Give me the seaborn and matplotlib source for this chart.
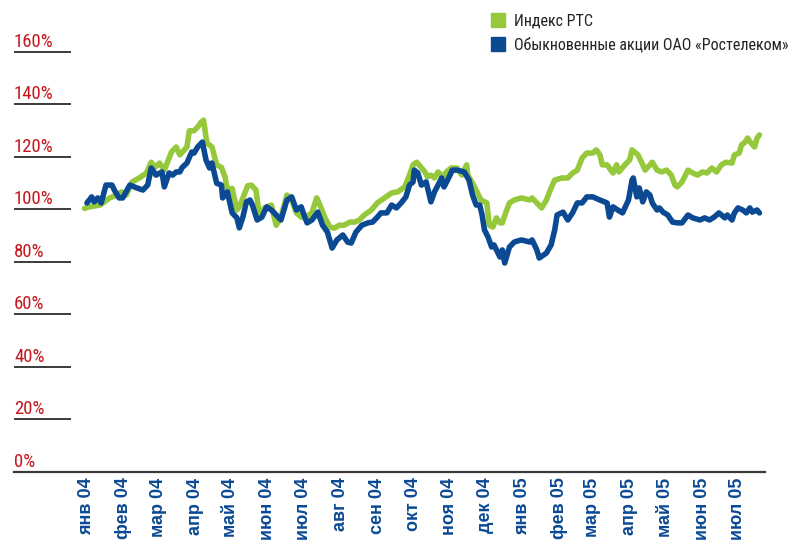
import pandas as pd
import matplotlib
matplotlib.use("Agg")
import matplotlib.pyplot as plt
import matplotlib.transforms as mtransforms
from matplotlib.lines import Line2D
from matplotlib import font_manager
import seaborn as sns

# Индекс РТС, % к началу периода
rts_dates = [
    "2003-12-30", "2004-01-03", "2004-01-12", "2004-01-20", "2004-01-26", "2004-01-30",
    "2004-02-03", "2004-02-08", "2004-02-14", "2004-02-20", "2004-02-24", "2004-02-27",
    "2004-03-02", "2004-03-06", "2004-03-12", "2004-03-16", "2004-03-19", "2004-03-25",
    "2004-03-27", "2004-03-31", "2004-04-03", "2004-04-06", "2004-04-08", "2004-04-10",
    "2004-04-11", "2004-04-15", "2004-04-19", "2004-04-23", "2004-04-26", "2004-04-28",
    "2004-05-02", "2004-05-06", "2004-05-08", "2004-05-12", "2004-05-15", "2004-05-18",
    "2004-05-22", "2004-05-25", "2004-05-29", "2004-06-04", "2004-06-08", "2004-06-12",
    "2004-06-17", "2004-06-21", "2004-06-25", "2004-06-29", "2004-07-03", "2004-07-08",
    "2004-07-12", "2004-07-14", "2004-07-19", "2004-07-23", "2004-07-27", "2004-07-31",
    "2004-08-04", "2004-08-09", "2004-08-13", "2004-08-17", "2004-08-21", "2004-08-27",
    "2004-09-01", "2004-09-07", "2004-09-13", "2004-09-18", "2004-09-24", "2004-09-28",
    "2004-10-01", "2004-10-04", "2004-10-06", "2004-10-11", "2004-10-13", "2004-10-16",
    "2004-10-19", "2004-10-22", "2004-10-26", "2004-10-29", "2004-11-02", "2004-11-07",
    "2004-11-11", "2004-11-15", "2004-11-16", "2004-11-20", "2004-11-23", "2004-11-27",
    "2004-12-02", "2004-12-04", "2004-12-07", "2004-12-10", "2004-12-13", "2004-12-15",
    "2004-12-18", "2004-12-21", "2004-12-25", "2004-12-31", "2005-01-07", "2005-01-09",
    "2005-01-13", "2005-01-17", "2005-01-21", "2005-01-25", "2005-01-28", "2005-02-03",
    "2005-02-08", "2005-02-12", "2005-02-16", "2005-02-20", "2005-02-24", "2005-03-01",
    "2005-03-04", "2005-03-07", "2005-03-09", "2005-03-13", "2005-03-18", "2005-03-21",
    "2005-03-23", "2005-03-28", "2005-04-01", "2005-04-03", "2005-04-08", "2005-04-11",
    "2005-04-14", "2005-04-18", "2005-04-20", "2005-04-24", "2005-04-28", "2005-05-02",
    "2005-05-06", "2005-05-09", "2005-05-11", "2005-05-15", "2005-05-20", "2005-05-24",
    "2005-05-28", "2005-06-01", "2005-06-05", "2005-06-09", "2005-06-13", "2005-06-17",
    "2005-06-21", "2005-06-26", "2005-06-28", "2005-07-02", "2005-07-04", "2005-07-07",
    "2005-07-09", "2005-07-12", "2005-07-15", "2005-07-17", "2005-07-19",
]
rts_values = [
    100.4, 101.0, 101.7, 104.4, 105.5, 106.7,
    105.5, 110.5, 112.0, 113.9, 118.0, 116.0,
    117.7, 115.0, 121.9, 123.8, 120.8, 123.8,
    130.0, 130.0, 131.4, 133.3, 134.0, 127.6,
    125.3, 123.8, 117.0, 116.0, 112.4, 107.4,
    108.0, 99.8, 101.0, 105.5, 109.0, 109.3,
    107.4, 97.1, 100.6, 101.7, 94.0, 97.1,
    105.5, 103.6, 98.7, 97.1, 97.1, 98.7,
    104.4, 102.5, 96.8, 93.3, 92.9, 94.0,
    94.0, 95.2, 95.2, 96.0, 97.9, 99.8,
    102.5, 104.4, 106.3, 106.7, 108.6, 113.1,
    117.0, 118.0, 117.0, 114.3, 112.4, 113.1,
    112.0, 114.3, 112.4, 114.3, 115.8, 115.8,
    113.1, 117.0, 113.1, 110.0, 107.4, 103.6,
    102.5, 94.0, 93.3, 96.8, 94.9, 94.9,
    99.0, 102.5, 103.6, 104.4, 103.6, 104.4,
    102.5, 100.6, 103.6, 108.2, 111.2, 112.0,
    112.0, 113.9, 115.0, 119.6, 121.5, 121.5,
    122.7, 120.8, 117.0, 117.0, 113.9, 117.0,
    114.3, 117.0, 118.9, 122.7, 120.8, 118.0,
    115.0, 117.0, 118.0, 115.0, 114.3, 115.0,
    113.1, 109.3, 108.6, 110.5, 115.0, 113.9,
    113.1, 114.3, 113.9, 115.8, 114.3, 117.0,
    118.0, 117.7, 120.8, 121.5, 124.6, 125.7,
    127.2, 125.3, 123.8, 127.2, 128.4,
]

# Обыкновенные акции ОАО «Ростелеком», %
rtkm_dates = [
    "2004-01-01", "2004-01-05", "2004-01-07", "2004-01-10", "2004-01-13", "2004-01-17",
    "2004-01-22", "2004-01-24", "2004-01-28", "2004-01-31", "2004-02-06", "2004-02-12",
    "2004-02-17", "2004-02-21", "2004-02-24", "2004-02-28", "2004-03-04", "2004-03-06",
    "2004-03-10", "2004-03-13", "2004-03-16", "2004-03-19", "2004-03-21", "2004-03-25",
    "2004-03-29", "2004-03-31", "2004-04-03", "2004-04-07", "2004-04-10", "2004-04-13",
    "2004-04-15", "2004-04-19", "2004-04-23", "2004-04-24", "2004-04-28", "2004-05-02",
    "2004-05-06", "2004-05-08", "2004-05-11", "2004-05-14", "2004-05-17", "2004-05-19",
    "2004-05-23", "2004-05-27", "2004-05-31", "2004-06-04", "2004-06-08", "2004-06-12",
    "2004-06-17", "2004-06-21", "2004-06-25", "2004-06-29", "2004-07-02", "2004-07-04",
    "2004-07-08", "2004-07-13", "2004-07-17", "2004-07-21", "2004-07-25", "2004-07-29",
    "2004-08-03", "2004-08-07", "2004-08-10", "2004-08-14", "2004-08-19", "2004-08-24",
    "2004-08-28", "2004-09-01", "2004-09-04", "2004-09-09", "2004-09-13", "2004-09-17",
    "2004-09-21", "2004-09-25", "2004-09-28", "2004-10-01", "2004-10-02", "2004-10-05",
    "2004-10-08", "2004-10-12", "2004-10-16", "2004-10-19", "2004-10-22", "2004-10-25",
    "2004-10-27", "2004-10-30", "2004-11-03", "2004-11-07", "2004-11-13", "2004-11-17",
    "2004-11-20", "2004-11-23", "2004-11-26", "2004-11-28", "2004-11-30", "2004-12-03",
    "2004-12-06", "2004-12-08", "2004-12-13", "2004-12-15", "2004-12-17", "2004-12-21",
    "2004-12-25", "2004-12-31", "2005-01-07", "2005-01-09", "2005-01-13", "2005-01-15",
    "2005-01-21", "2005-01-25", "2005-01-28", "2005-01-30", "2005-02-04", "2005-02-08",
    "2005-02-12", "2005-02-16", "2005-02-20", "2005-02-24", "2005-03-01", "2005-03-07",
    "2005-03-13", "2005-03-15", "2005-03-18", "2005-03-22", "2005-03-26", "2005-03-31",
    "2005-04-03", "2005-04-04", "2005-04-07", "2005-04-09", "2005-04-12", "2005-04-15",
    "2005-04-18", "2005-04-20", "2005-04-24", "2005-04-26", "2005-04-29", "2005-05-03",
    "2005-05-07", "2005-05-11", "2005-05-15", "2005-05-20", "2005-05-24", "2005-05-30",
    "2005-06-03", "2005-06-07", "2005-06-11", "2005-06-15", "2005-06-20", "2005-06-22",
    "2005-06-26", "2005-06-28", "2005-07-01", "2005-07-05", "2005-07-08", "2005-07-11",
    "2005-07-13", "2005-07-17", "2005-07-19",
]
rtkm_values = [
    102.5, 104.8, 102.9, 104.4, 102.5, 109.3,
    109.3, 107.4, 104.4, 104.4, 109.3, 108.2,
    107.4, 109.3, 115.8, 113.1, 114.3, 108.6,
    113.9, 113.1, 114.3, 114.3, 116.0, 117.7,
    121.9, 121.5, 123.8, 125.7, 118.9, 115.8,
    117.7, 110.0, 109.3, 104.4, 106.7, 98.7,
    96.8, 93.0, 97.1, 102.9, 103.6, 101.7,
    96.0, 97.1, 101.0, 99.8, 97.9, 96.0,
    103.6, 104.8, 99.8, 101.0, 97.1, 94.9,
    96.0, 99.0, 94.0, 91.4, 85.3, 88.4,
    90.3, 87.6, 87.2, 91.4, 94.0, 94.9,
    95.2, 97.1, 98.7, 98.7, 101.7, 100.6,
    102.5, 104.8, 109.3, 110.5, 115.0, 113.9,
    109.3, 110.5, 102.9, 106.7, 109.3, 112.0,
    108.6, 111.2, 115.0, 115.0, 114.3, 111.2,
    105.5, 101.7, 101.7, 97.9, 92.2, 89.5,
    85.7, 86.5, 81.9, 84.6, 79.6, 85.7,
    87.6, 88.4, 87.6, 88.4, 84.6, 81.5,
    83.4, 86.5, 92.2, 97.9, 99.0, 96.0,
    98.7, 102.5, 102.5, 104.8, 104.8, 103.6,
    102.5, 97.1, 101.0, 99.8, 98.7, 103.6,
    111.2, 112.0, 104.8, 108.2, 102.9, 106.7,
    105.5, 102.5, 99.8, 100.6, 99.0, 97.9,
    95.2, 94.9, 94.9, 97.9, 96.8, 96.0,
    96.8, 96.0, 97.1, 98.7, 96.8, 97.9,
    96.0, 98.7, 100.6, 99.8, 98.7, 100.6,
    99.0, 99.8, 98.7,
]

series_names = ["Индекс РТС", "Обыкновенные акции ОАО «Ростелеком»"]
series_colors = ["#96c83c", "#0b4a93"]

month_ticks = pd.date_range("2004-01-01", "2005-07-01", freq="MS")
month_labels = [
    "янв 04", "фев 04", "мар 04", "апр 04", "май 04", "июн 04", "июл 04", "авг 04",
    "сен 04", "окт 04", "ноя 04", "дек 04", "янв 05", "фев 05", "мар 05", "апр 05",
    "май 05", "июн 05", "июл 05",
]
y_ticks = [0, 20, 40, 60, 80, 100, 120, 140, 160]

label_red = "#c4161c"
label_blue = "#0b4a93"
rule_grey = "#3a3a3a"

df = pd.concat([
    pd.DataFrame({"date": pd.to_datetime(rts_dates), "value": rts_values, "series": series_names[0]}),
    pd.DataFrame({"date": pd.to_datetime(rtkm_dates), "value": rtkm_values, "series": series_names[1]}),
], ignore_index=True)

# a condensed face if one is around, else plain Liberation Sans at a smaller size
installed = {f.name for f in font_manager.fontManager.ttflist}
narrow = [n for n in ["Liberation Sans Narrow", "Roboto Condensed", "Open Sans Condensed"] if n in installed]
text_family = narrow[:1] + ["Liberation Sans", "DejaVu Sans"]
legend_size = 11.5 if narrow else 10.5
ylab_size = 13.5 if narrow else 12

sns.set_style("white")
plt.rcParams["font.family"] = text_family

fig = plt.figure(figsize=(7.93, 5.41), dpi=100)
ax = fig.add_axes([14 / 793, 69 / 541, 751 / 793, 459.4 / 541])

sns.lineplot(data=df, x="date", y="value", hue="series", hue_order=series_names,
             palette=series_colors, linewidth=4.0, legend=False, ax=ax,
             solid_joinstyle="round", solid_capstyle="round")

start = pd.Timestamp("2004-01-01")
ax.set_xlim(start - pd.Timedelta(days=61.3), start + pd.Timedelta(days=569.7))
ax.set_ylim(0, 175)
ax.set_xlabel("")
ax.set_ylabel("")

# short rules at each y level with the label sitting on top
ax.set_yticks([])
ax.hlines(y_ticks[1:], 0, 57 / 751, transform=ax.get_yaxis_transform(),
          colors=rule_grey, linewidth=1.4)
lab_trans = mtransforms.offset_copy(ax.get_yaxis_transform(), fig=fig, x=0, y=5, units="dots")
for v in y_ticks:
    ax.text(0, v, f"{v}%", transform=lab_trans, ha="left", va="baseline",
            fontsize=ylab_size, color=label_red)

ax.set_xticks(month_ticks)
ax.set_xticklabels(month_labels, rotation=90, fontweight="bold", fontsize=13,
                   color=label_blue, family=["Liberation Sans", "DejaVu Sans"])
ax.tick_params(axis="x", direction="in", length=14, width=1.1, color=rule_grey, pad=4)

for side in ["top", "right", "left"]:
    ax.spines[side].set_visible(False)
ax.spines["bottom"].set_color(rule_grey)
ax.spines["bottom"].set_linewidth(1.6)

handles = [Line2D([], [], marker="s", linestyle="", markersize=10, color=c) for c in series_colors]
fig.legend(handles, series_names, loc="upper left", bbox_to_anchor=(488 / 793, 1 - 14 / 541),
           frameon=False, borderpad=0, borderaxespad=0, handlelength=1.2,
           handletextpad=0.45, labelspacing=0.5, fontsize=legend_size, labelcolor="#222222")

fig.savefig("out.png", dpi=100)
